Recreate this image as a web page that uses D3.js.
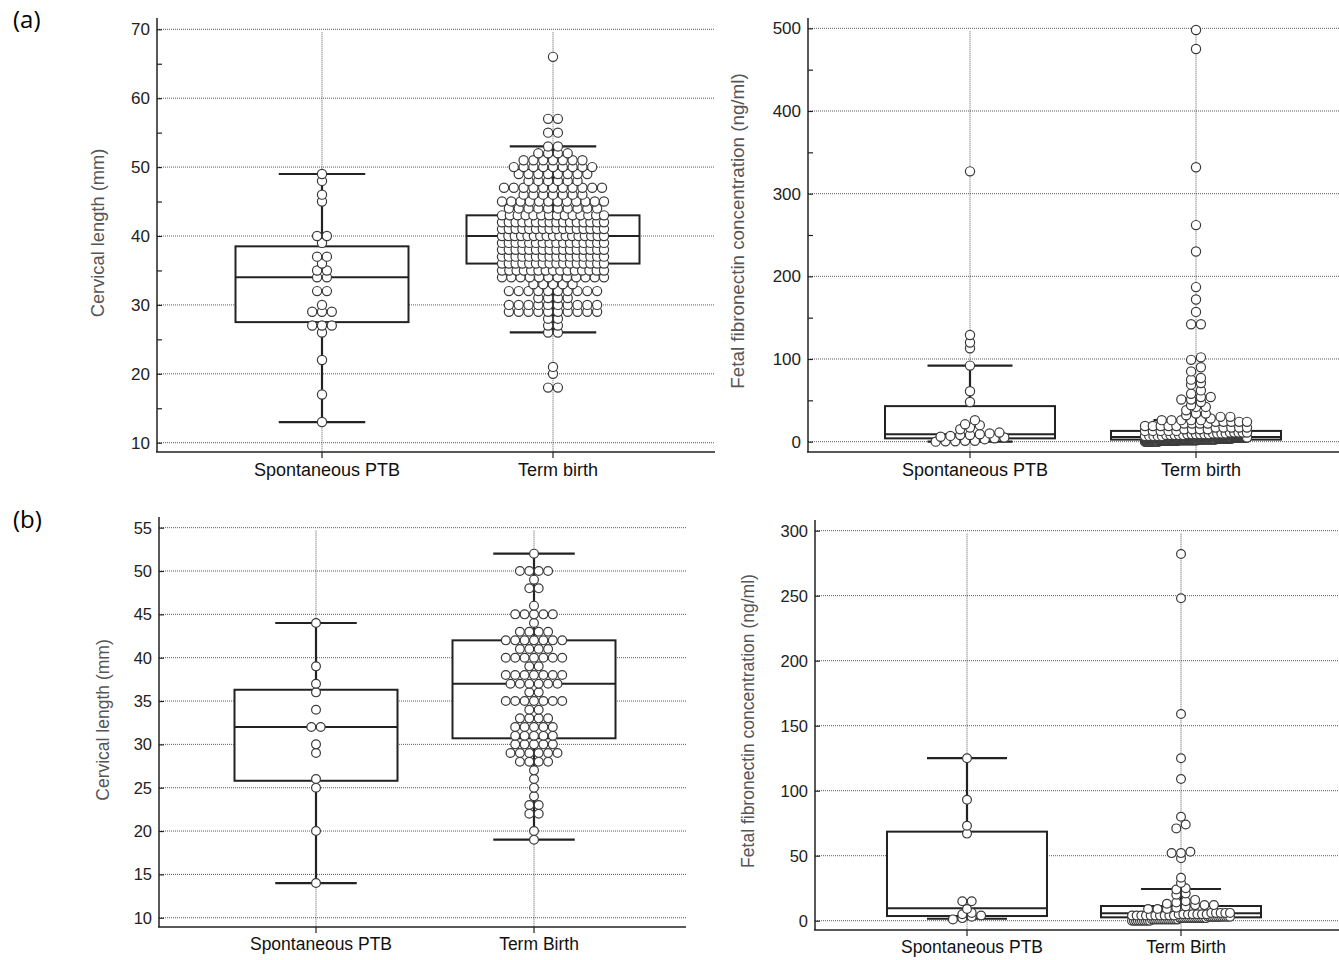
<!DOCTYPE html>
<html>
<head>
<meta charset="utf-8">
<script src="https://cdn.jsdelivr.net/npm/d3@7"></script>
<style>
  body { margin: 0; background: #fff; }
  svg { display: block; font-family: "Liberation Sans", Arial, sans-serif; }
</style>
</head>
<body>
<svg id="chart" width="1339" height="960"></svg>
<script>
// ---------- data ----------
const groupsA = ["Spontaneous PTB", "Term birth"];
const groupsB = ["Spontaneous PTB", "Term Birth"];

// (a) cervical length (mm)
const clPtbA = [49, 48, 46, 45, 40, 40, 39, 37, 37, 36, 35, 35, 34, 34, 32, 32, 30, 29, 29, 29, 27, 27, 27, 26, 22, 17, 13];
const clTermAValues = [18, 20, 21, 26, 27, 28, 29, 30, 31, 32, 33, 34, 35, 36, 37, 38, 39, 40, 41, 42, 43, 44, 45, 46, 47, 48, 49, 50, 51, 52, 53, 55, 57, 66];
const clTermACounts = [2, 1, 1, 2, 2, 2, 10, 10, 4, 10, 5, 12, 15, 16, 16, 16, 16, 17, 16, 16, 14, 10, 12, 7, 11, 6, 8, 9, 7, 4, 2, 2, 2, 1];
// box stats: [whisker low, Q1, median, Q3, whisker high]
const clBoxA = [[13, 27.5, 34, 38.5, 49], [26, 36, 40, 43, 53]];

// (a) fetal fibronectin (ng/ml)
const ffnPtbA = [327, 129, 120, 113, 92, 61, 48, 26, 21, 20, 17, 15, 11, 10, 9, 8, 8, 7, 6, 5, 4, 3, 1, 1, 0.5, 0.5, 0];
const ffnTermAValues = [0, 1, 2, 3, 4, 5, 7, 8, 9, 10, 11, 13, 15, 17, 19, 22, 24, 26, 28, 30, 32, 34, 38, 42, 44, 48, 51, 54, 58, 62, 69, 71, 75, 77, 85, 90, 99, 102, 142, 157, 172, 187, 230, 262, 332, 475, 498];
const ffnTermACounts = [26, 35, 38, 35, 30, 28, 5, 5, 6, 4, 5, 5, 4, 5, 5, 4, 5, 5, 1, 2, 1, 2, 1, 2, 1, 1, 2, 2, 1, 1, 1, 1, 1, 1, 1, 1, 1, 1, 2, 1, 1, 1, 1, 1, 1, 1, 1];
const ffnBoxA = [[0, 4, 9, 43, 92], [0.5, 2.5, 5.5, 13, 26]];

// (b) cervical length (mm)
const clPtbB = [44, 39, 37, 36, 34, 32, 32, 30, 29, 26, 25, 20, 14];
const clTermBValues = [19, 20, 22, 23, 24, 25, 26, 27, 28, 29, 30, 31, 32, 33, 34, 35, 36, 37, 38, 39, 40, 41, 42, 43, 44, 45, 46, 48, 49, 50, 52];
const clTermBCounts = [1, 1, 2, 2, 1, 1, 1, 1, 4, 6, 5, 5, 5, 4, 2, 7, 2, 6, 7, 2, 7, 4, 7, 4, 1, 5, 1, 2, 1, 4, 1];
const clBoxB = [[14, 25.8, 32, 36.3, 44], [19, 30.7, 37, 42, 52]];

// (b) fetal fibronectin (ng/ml)
const ffnPtbB = [125, 93, 73, 67, 15, 15, 9, 6, 5, 4, 3, 2, 1];
const ffnTermBValues = [0, 1, 2, 3, 4, 5, 6, 9, 10, 11, 12, 13, 14, 15, 16, 20, 21, 24, 25, 29, 33, 48, 52, 53, 71, 74, 80, 109, 125, 159, 248, 282];
const ffnTermBCounts = [10, 14, 14, 12, 10, 7, 5, 3, 1, 1, 3, 1, 1, 1, 1, 1, 1, 1, 1, 1, 1, 1, 2, 1, 1, 1, 1, 1, 1, 1, 1, 1];
const ffnBoxB = [[1.5, 3.6, 9.5, 68.5, 125], [0, 2.6, 5.7, 11.3, 24.4]];

const clTitle = "Cervical length (mm)";
const ffnTitle = "Fetal fibronectin concentration (ng/ml)";

// ---------- helpers ----------
function expand(values, counts) {
  const out = [];
  values.forEach((v, i) => { for (let k = 0; k < counts[i]; k++) out.push(v); });
  return out;
}

// MedCalc-like dot rows: values close in pixel space share a row, spread left to right
function dotRows(vals, y, cx, d, maxW, rowH) {
  const sorted = vals.slice().sort((a, b) => a - b);
  const rows = [];
  let cur = null;
  sorted.forEach(v => {
    const py = y(v);
    if (!cur || Math.abs(py - cur.y0) >= rowH) {
      cur = { y0: py, pts: [] };
      rows.push(cur);
    }
    cur.pts.push(v);
  });
  const out = [];
  rows.forEach(r => {
    const n = r.pts.length;
    const s = n > 1 ? Math.min(d, maxW / (n - 1)) : 0;
    r.pts.forEach((v, i) => out.push({ v, x: cx + (i - (n - 1) / 2) * s, y: y(v) }));
  });
  return out;
}

const svg = d3.select("#chart");
const GRID = "#4a4a4a";
const INK = "#222";

function panel(cfg) {
  const g = svg.append("g");
  const y = d3.scaleLinear().domain(cfg.yDomain).range([cfg.bottom, cfg.top]);
  const x = d3.scalePoint().domain(cfg.groups).range(cfg.centers);

  // horizontal grid lines at major ticks
  g.selectAll(".hgrid").data(cfg.major).join("line")
    .attr("x1", cfg.left).attr("x2", cfg.right)
    .attr("y1", d => y(d)).attr("y2", d => y(d))
    .attr("stroke", GRID).attr("stroke-width", 0.9).attr("stroke-dasharray", "1,1");

  // vertical grid lines at group centers
  const yTop = y(d3.max(cfg.major));
  g.selectAll(".vgrid").data(cfg.groups).join("line")
    .attr("x1", d => x(d)).attr("x2", d => x(d))
    .attr("y1", yTop + 3).attr("y2", cfg.bottom)
    .attr("stroke", GRID).attr("stroke-width", 0.9).attr("stroke-dasharray", "1,1");

  // y axis
  const axis = d3.axisRight(y).tickValues(cfg.major.concat(cfg.minor)).tickSize(5).tickFormat("");
  const ag = g.append("g").attr("transform", `translate(${cfg.left},0)`).call(axis);
  ag.select(".domain").remove();
  ag.selectAll(".tick line").attr("stroke", INK).attr("stroke-width", 1.2);
  g.append("line").attr("x1", cfg.left).attr("x2", cfg.left)
    .attr("y1", cfg.top).attr("y2", cfg.bottom)
    .attr("stroke", INK).attr("stroke-width", 1.5);
  g.selectAll(".ylab").data(cfg.major).join("text")
    .attr("x", cfg.left - 7).attr("y", d => y(d)).attr("dy", "0.36em")
    .attr("text-anchor", "end").attr("font-size", cfg.tickFont).attr("fill", INK)
    .text(d => d);

  // x axis
  g.append("line").attr("x1", cfg.left - 1).attr("x2", cfg.right)
    .attr("y1", cfg.bottom).attr("y2", cfg.bottom)
    .attr("stroke", INK).attr("stroke-width", 1.5);
  g.selectAll(".xtick").data(cfg.groups).join("line")
    .attr("x1", d => x(d)).attr("x2", d => x(d))
    .attr("y1", cfg.bottom).attr("y2", cfg.bottom + 6)
    .attr("stroke", INK).attr("stroke-width", 1.2);
  g.selectAll(".xlab").data(cfg.groups).join("text")
    .attr("x", d => x(d) + 5).attr("y", cfg.labelY)
    .attr("text-anchor", "middle").attr("font-size", cfg.catFont).attr("fill", "#111")
    .text(d => d);

  // y title
  g.append("text")
    .attr("transform", `translate(${cfg.titleX},${cfg.titleY}) rotate(-90)`)
    .attr("text-anchor", "middle").attr("font-size", cfg.titleFont).attr("fill", "#555")
    .text(cfg.title);

  // boxes and whiskers
  const bw = cfg.boxW;
  cfg.groups.forEach((grp, i) => {
    const [wl, q1, med, q3, wh] = cfg.box[i];
    const cx = x(grp);
    const bg = g.append("g");
    bg.append("line").attr("x1", cx).attr("x2", cx).attr("y1", y(wl)).attr("y2", y(q1))
      .attr("stroke", INK).attr("stroke-width", 2.2);
    bg.append("line").attr("x1", cx).attr("x2", cx).attr("y1", y(q3)).attr("y2", y(wh))
      .attr("stroke", INK).attr("stroke-width", 2.2);
    [wl, wh].forEach(v => bg.append("line")
      .attr("x1", cx - bw / 4).attr("x2", cx + bw / 4).attr("y1", y(v)).attr("y2", y(v))
      .attr("stroke", INK).attr("stroke-width", 2.2));
    bg.append("rect").attr("x", cx - bw / 2).attr("width", bw)
      .attr("y", y(q3)).attr("height", y(q1) - y(q3))
      .attr("fill", "#fff").attr("stroke", INK).attr("stroke-width", 2);
    bg.append("line").attr("x1", cx - bw / 2).attr("x2", cx + bw / 2)
      .attr("y1", y(med)).attr("y2", y(med))
      .attr("stroke", INK).attr("stroke-width", 2);

    const pts = dotRows(cfg.values[i], y, cx, cfg.dotD, cfg.maxW, 4.5);
    bg.selectAll("circle").data(pts).join("circle")
      .attr("cx", d => d.x).attr("cy", d => d.y).attr("r", cfg.dotR)
      .attr("fill", "#fff").attr("stroke", "#3a3a3a").attr("stroke-width", 1.2);
  });
}

panel({
  groups: groupsA, centers: [322, 553], left: 157, right: 715, top: 18, bottom: 452,
  yDomain: [8.65, 71.64], major: d3.range(10, 71, 10), minor: d3.range(15, 70, 10),
  boxW: 173, maxW: 102, box: clBoxA, dotR: 4.6, dotD: 9.8,
  values: [clPtbA, expand(clTermAValues, clTermACounts)],
  title: clTitle, titleX: 104, titleY: 233, labelY: 476,
  tickFont: 17, titleFont: 18.3, catFont: 18
});

panel({
  groups: groupsA, centers: [970, 1196], left: 808, right: 1358, top: 18, bottom: 452,
  yDomain: [-12.5, 512.5], major: d3.range(0, 501, 100), minor: d3.range(50, 500, 100),
  boxW: 170, maxW: 102, box: ffnBoxA, dotR: 4.6, dotD: 9.8,
  values: [ffnPtbA, expand(ffnTermAValues, ffnTermACounts)],
  title: ffnTitle, titleX: 744, titleY: 231, labelY: 476,
  tickFont: 17, titleFont: 18.8, catFont: 18
});

panel({
  groups: groupsB, centers: [316, 534], left: 159, right: 686, top: 517, bottom: 927,
  yDomain: [8.93, 56.23], major: d3.range(10, 56, 5), minor: [],
  boxW: 163, maxW: 96, box: clBoxB, dotR: 4.4, dotD: 9.4,
  values: [clPtbB, expand(clTermBValues, clTermBCounts)],
  title: clTitle, titleX: 109, titleY: 720, labelY: 950,
  tickFont: 16.5, titleFont: 17.5, catFont: 17.5
});

panel({
  groups: groupsB, centers: [967, 1181], left: 815, right: 1345, top: 520, bottom: 930,
  yDomain: [-7.15, 308.2], major: d3.range(0, 301, 50), minor: [],
  boxW: 160, maxW: 98, box: ffnBoxB, dotR: 4.4, dotD: 9.4,
  values: [ffnPtbB, expand(ffnTermBValues, ffnTermBCounts)],
  title: ffnTitle, titleX: 754, titleY: 721, labelY: 953,
  tickFont: 16.5, titleFont: 17.5, catFont: 17.5
});

// panel letters
svg.append("text").attr("x", 13).attr("y", 28).attr("font-family", "'Open Sans', sans-serif")
  .attr("font-size", 24).attr("fill", "#000").text("(a)");
svg.append("text").attr("x", 13).attr("y", 528).attr("font-family", "'Open Sans', sans-serif")
  .attr("font-size", 24).attr("fill", "#000").text("(b)");
</script>
</body>
</html>
